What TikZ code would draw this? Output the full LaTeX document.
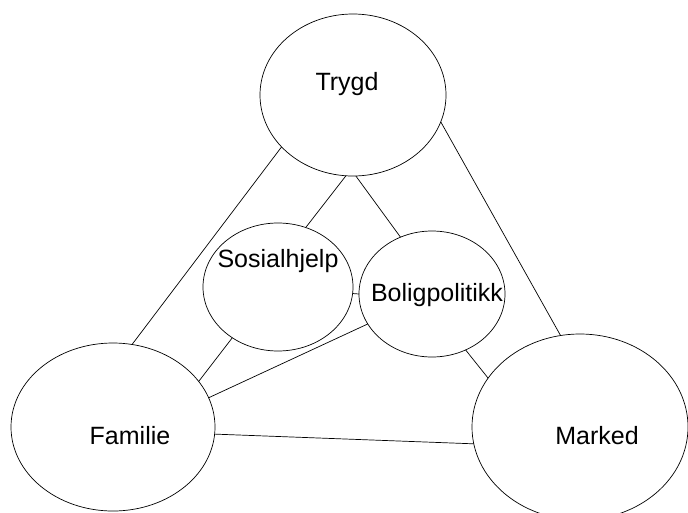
\documentclass[tikz,border=0pt]{standalone}
\usepackage{fontspec}
\setmainfont{Liberation Sans}
\usetikzlibrary{shapes.geometric}
\tikzset{
  sphere/.style={draw, ellipse, inner sep=0pt, outer sep=0pt, line width=0.7pt},
  link/.style={line width=0.7pt},
  tag/.style={font=\fontsize{25}{30}\selectfont, inner sep=0pt}
}

\begin{document}
\begin{tikzpicture}[x=1pt, y=-1pt]

    % Frame
    \useasboundingbox (0,0) rectangle (688,512);
    \clip (0,0) rectangle (688,512);

    % The five spheres
    \node[sphere, minimum width=186pt, minimum height=162pt] (trygd) at (353,95) {};
    \node[sphere, minimum width=150pt, minimum height=128pt] (sosial) at (278,287) {};
    \node[sphere, minimum width=146pt, minimum height=126pt] (bolig) at (432,294) {};
    \node[sphere, minimum width=204pt, minimum height=168pt] (familie) at (113,427) {};
    \node[sphere, minimum width=216pt, minimum height=186pt] (marked) at (580,427) {};

    % Labels
    \node[tag] (trygdtxt) at (347,84) {Trygd};
    \node[tag] (sosialtxt) at (278,261) {Sosialhjelp};
    \node[tag] (boligtxt) at (437,295) {Boligpolitikk};
    \node[tag] (familietxt) at (130,436) {Familie};
    \node[tag] (markedtxt) at (597,436) {Marked};

    % Connections
    \draw[link] (trygd.216) -- (familie.77);
    \draw[link] (trygd.343) -- (marked.102);
    \draw[link] (trygd.265) -- (sosial.65);
    \draw[link] (trygd.272) -- (bolig.119);
    \draw[link] (sosial.355) -- (bolig.180);
    \draw[link] (sosial.228) -- (familie.28);
    \draw[link] (bolig.205) -- (familie.17);
    \draw[link] (bolig.301) -- (marked.152);
    \draw[link] (familie.356) -- (marked.189);

\end{tikzpicture}
\end{document}
